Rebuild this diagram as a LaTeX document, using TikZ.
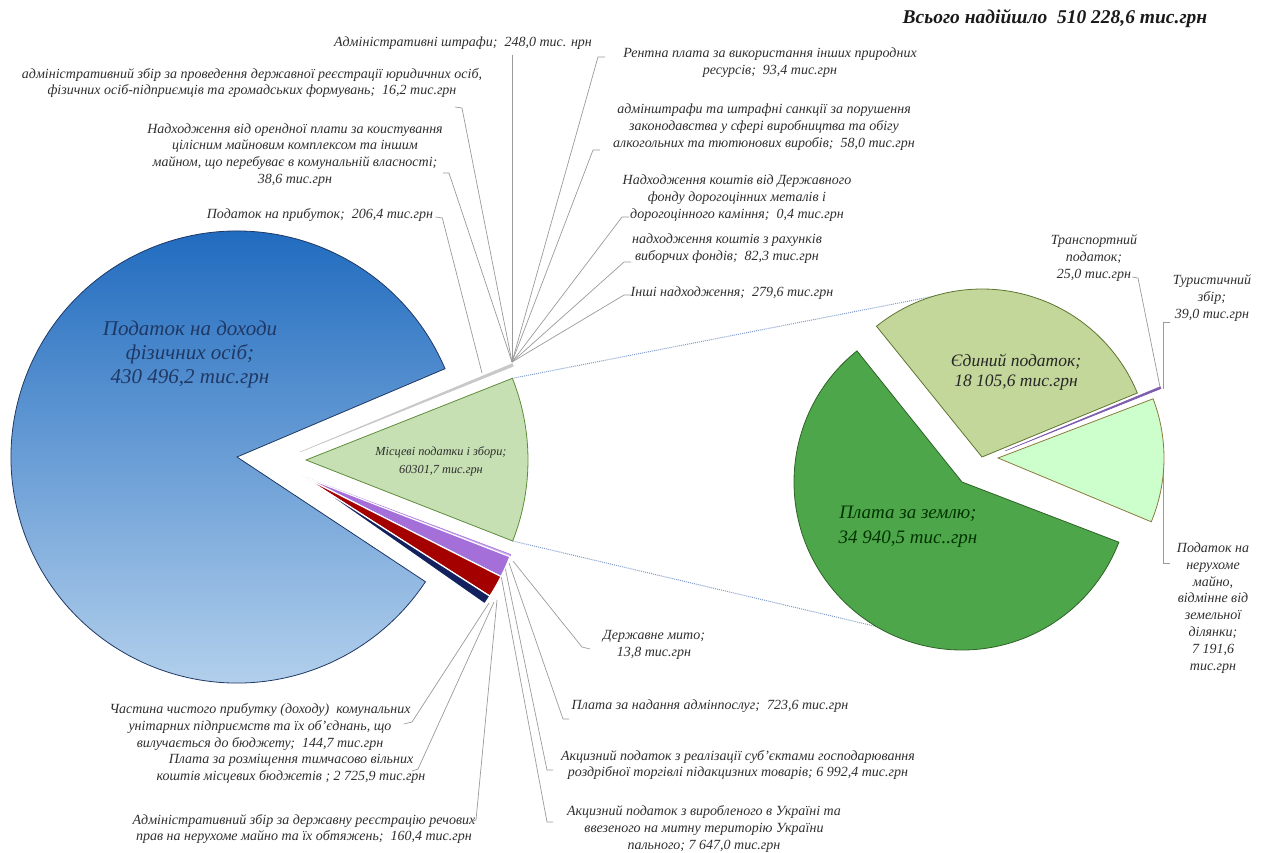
\documentclass[tikz,border=0pt]{standalone}
\usepackage{fontspec}
\setmainfont{Liberation Serif}
\definecolor{pdfotop}{HTML}{1765BC}
\definecolor{pdfobot}{HTML}{BCD6EF}
\definecolor{pdfoline}{HTML}{1F3864}
\definecolor{localfill}{HTML}{C6E0B4}
\definecolor{localline}{HTML}{5E8C3A}
\definecolor{svcfill}{HTML}{C9A6EC}
\definecolor{fuelfill}{HTML}{A46FD9}
\definecolor{retailfill}{HTML}{A50000}
\definecolor{placefill}{HTML}{13225E}
\definecolor{sliverfill}{HTML}{C8C8C8}
\definecolor{landfill}{HTML}{4EA64A}
\definecolor{landline}{HTML}{2E6328}
\definecolor{singlefill}{HTML}{C4D79B}
\definecolor{singleline}{HTML}{5D7530}
\definecolor{realtyfill}{HTML}{CCFFCC}
\definecolor{realtyline}{HTML}{8C7A3C}
\definecolor{tinyfill}{HTML}{7E5CAE}
\definecolor{leadgray}{HTML}{9A9A9A}
\definecolor{dotblue}{HTML}{7F9CCB}
\definecolor{labelgray}{HTML}{2E2E2E}
\tikzset{
  lbl/.style={font=\itshape\fontsize{14}{16.8}\selectfont, text=labelgray, align=center, inner sep=0pt},
  leader/.style={draw=leadgray, line width=0.7pt},
  zoomline/.style={draw=dotblue, line width=1pt, densely dotted},
  gapslice/.style={draw=white, line width=1.2pt},
}

\begin{document}
\begin{tikzpicture}[x=1pt, y=-1pt]
  \useasboundingbox (0,0) rectangle (1269,852);

  % Pie tips
  \coordinate (bluetip) at (237, 457);
  \coordinate (toptip) at (300, 452);
  \coordinate (greentip) at (306, 460);
  \coordinate (lowtip) at (302, 476);
  \coordinate (landtip) at (962, 482);
  \coordinate (singletip) at (982, 457);
  \coordinate (tinytip) at (1005, 451);
  \coordinate (realtytip) at (998, 458);

  % Ends of the leader lines on the slices
  \coordinate (hubtop) at (512, 362);
  \coordinate (hubtax) at (482, 373);
  \coordinate (hubduty) at (513, 561);
  \coordinate (hubsvc) at (509, 563);
  \coordinate (hubretail) at (505, 567);
  \coordinate (hubfuel) at (500, 570);
  \coordinate (hubshare) at (489, 603);
  \coordinate (hubplace) at (494, 602);
  \coordinate (hubreal) at (497, 600);
  \coordinate (hubtrans) at (1160, 387);
  \coordinate (hubtour) at (1163, 389);
  \coordinate (hubrealty) at (1163, 460);

  % Zoom lines from the local taxes slice to the second pie
  \coordinate (zoomA) at (512.4, 378.3);
  \coordinate (zoomB) at (512.7, 541);
  \coordinate (zoomC) at (940, 295);
  \coordinate (zoomD) at (955, 645);
  \draw[zoomline] (zoomA) -- (zoomC);
  \draw[zoomline] (zoomB) -- (zoomD);

  % Labels, top
  \node[font=\bfseries\itshape\fontsize{19.5}{22}\selectfont, text=black!90, inner sep=0pt] (total) at (1055, 19) {Всього надійшло~~510 228,6 тис.грн};
  \node[lbl] (finesadm) at (463, 43) {Адміністративні штрафи;~~248,0 тис. нрн};
  \node[lbl] (regfee) at (252, 83) {адміністративний збір за проведення державної реєстрації юридичних осіб,\\фізичних осіб-підприємців та громадських формувань;~~16,2 тис.грн};
  \node[lbl] (leasefee) at (295, 155) {Надходження від орендної плати за коистування\\цілісним майновим комплексом та іншим\\майном, що перебуває в комунальній власності;\\38,6 тис.грн};
  \node[lbl] (profittax) at (320, 215) {Податок на прибуток;~~206,4 тис.грн};
  \node[lbl] (rentres) at (770, 63) {Рентна плата за використання інших природних\\ресурсів;~~93,4 тис.грн};
  \node[lbl] (alcfines) at (764, 127) {адмінштрафи та штрафні санкції за порушення\\законодавства у сфері виробництва та обігу\\алкогольних та тютюнових виробів;~~58,0 тис.грн};
  \node[lbl] (metalfund) at (737, 198) {Надходження коштів від Державного\\фонду дорогоцінних металів і\\дорогоцінного каміння;~~0,4 тис.грн};
  \node[lbl] (electfund) at (727, 249) {надходження коштів з рахунків\\виборчих фондів;~~82,3 тис.грн};
  \node[lbl] (otherinc) at (732, 293) {Інші надходження;~~279,6 тис.грн};

  % Labels, bottom
  \node[lbl] (duty) at (654, 645) {Державне мито;\\13,8 тис.грн};
  \node[lbl] (adminsvc) at (710, 706) {Плата за надання адмінпослуг;~~723,6 тис.грн};
  \node[lbl] (excretail) at (738, 765) {Акцизний податок з реалізації суб'єктами господарювання\\роздрібної торгівлі підакцизних товарів; 6 992,4 тис.грн};
  \node[lbl] (excfuel) at (704, 829) {Акцизний податок з виробленого в Україні та\\ввезеного на митну територію України\\пального; 7 647,0 тис.грн};
  \node[lbl] (profitshare) at (260, 727) {Частина чистого прибутку (доходу)~~комунальних\\унітарних підприємств та їх об'єднань, що\\вилучається до бюджету;~~144,7 тис.грн};
  \node[lbl] (placement) at (291, 769) {Плата за розміщення тимчасово вільних\\коштів місцевих бюджетів ; 2 725,9 тис.грн};
  \node[lbl] (realreg) at (304, 829) {Адміністративний збір за державну реєстрацію речових\\прав на нерухоме майно та їх обтяжень;~~160,4 тис.грн};

  % Labels, second pie
  \node[lbl] (transport) at (1094, 258) {Транспортний\\податок;\\25,0 тис.грн};
  \node[lbl] (tourist) at (1212, 298) {Туристичний\\збір;\\39,0 тис.грн};
  \node[lbl] (realty) at (1213, 608) {Податок на\\нерухоме\\майно,\\відмінне від\\земельної\\ділянки;\\7 191,6\\тис.грн};

  % Leader lines
  \draw[leader] (finesadm.south -| hubtop) ++(0,5) -- (hubtop);
  \draw[leader] (455, 107) -- (462, 108) -- (hubtop);
  \draw[leader] (443, 173) -- (449, 173) -- (hubtop);
  \draw[leader] (profittax.east) ++(2,2) -- ++(7,1) -- (hubtax);
  \draw[leader] (605, 57) -- (598, 57) -- (hubtop);
  \draw[leader] (600, 150) -- (593, 150) -- (hubtop);
  \draw[leader] (629, 217) -- (622, 217) -- (hubtop);
  \draw[leader] (631, 262) -- (624, 262) -- (hubtop);
  \draw[leader] (631, 295) -- (624, 295) -- (hubtop);
  \draw[leader] (590, 649) -- (582, 647) -- (hubduty);
  \draw[leader] (569, 719) -- (563, 719) -- (hubsvc);
  \draw[leader] (553, 770) -- (547, 770) -- (hubretail);
  \draw[leader] (553, 822) -- (547, 822) -- (hubfuel);
  \draw[leader] (404, 724) -- (412, 722) -- (hubshare);
  \draw[leader] (412, 771) -- (418, 769) -- (hubplace);
  \draw[leader] (470, 822) -- (476, 820) -- (hubreal);
  \draw[leader] (1132, 277) -- (1138, 278) -- (hubtrans);
  \draw[leader] (1170, 322) -- (1163, 322) -- (hubtour);
  \draw[leader] (1170, 563) -- (1163, 563) -- (hubrealty);

  % Main pie
  \shadedraw[top color=pdfotop, bottom color=pdfobot, draw=pdfoline, line width=0.8pt]
    (bluetip) -- ++(-23:226) arc[start angle=-23, end angle=-326.5, radius=226] -- cycle;
  \filldraw[fill=sliverfill, draw=sliverfill, line width=0.5pt]
    (toptip) -- ++(-22.6:230) arc[start angle=-22.6, end angle=-21.9, radius=230] -- cycle;
  \filldraw[fill=localfill, draw=localline, line width=0.8pt]
    (greentip) -- ++(-21.6:222) arc[start angle=-21.6, end angle=21.4, radius=222] -- cycle;
  \filldraw[fill=svcfill, draw=fuelfill, line width=0.5pt]
    (lowtip) -- ++(20.6:223) arc[start angle=20.6, end angle=21.2, radius=223] -- cycle;
  \filldraw[fill=fuelfill, gapslice]
    (lowtip) -- ++(21.2:223) arc[start angle=21.2, end angle=26.8, radius=223] -- cycle;
  \filldraw[fill=retailfill, gapslice]
    (lowtip) -- ++(26.8:223) arc[start angle=26.8, end angle=32.6, radius=223] -- cycle;
  \filldraw[fill=placefill, gapslice]
    (lowtip) -- ++(32.6:223) arc[start angle=32.6, end angle=35, radius=223] -- cycle;

  % Second pie
  \filldraw[fill=landfill, draw=landline, line width=0.8pt]
    (landtip) -- ++(-128.7:168) arc[start angle=-128.7, end angle=-339, radius=168] -- cycle;
  \filldraw[fill=singlefill, draw=singleline, line width=0.8pt]
    (singletip) -- ++(-128.9:168) arc[start angle=-128.9, end angle=-22.4, radius=168] -- cycle;
  \filldraw[fill=tinyfill, draw=tinyfill, line width=0.5pt]
    (tinytip) -- ++(-22.5:168) arc[start angle=-22.5, end angle=-21.8, radius=168] -- cycle;
  \filldraw[fill=realtyfill, draw=realtyline, line width=0.8pt]
    (realtytip) -- ++(-20.9:166) arc[start angle=-20.9, end angle=22.6, radius=166] -- cycle;

  % Labels inside the slices
  \node[font=\itshape\fontsize{21}{24}\selectfont, text=pdfoline, align=center] (pdfo) at (190, 354) {Податок на доходи\\фізичних осіб;\\430 496,2 тис.грн};
  \node[font=\itshape\fontsize{12.3}{18}\selectfont, text=labelgray, align=center] (local) at (441, 461) {Місцеві податки і збори;\\60301,7 тис.грн};
  \node[font=\itshape\fontsize{17.5}{20}\selectfont, text=black!85, align=center] (single) at (1016, 372) {Єдиний податок;\\18 105,6 тис.грн};
  \node[font=\itshape\fontsize{19}{25}\selectfont, text=black!80!green, align=center] (land) at (908, 527) {Плата за землю;\\34 940,5 тис..грн};
\end{tikzpicture}
\end{document}
